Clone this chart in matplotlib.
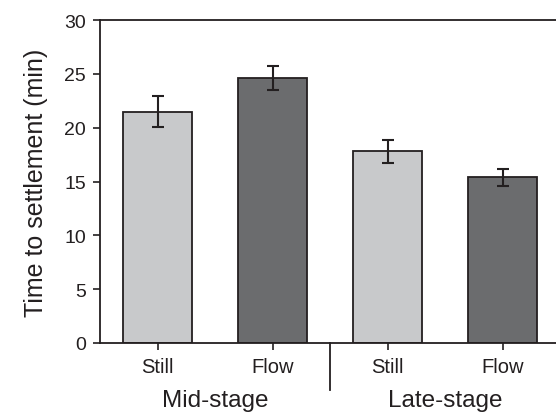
import matplotlib
matplotlib.use("Agg")
import matplotlib.pyplot as plt

plt.rcParams['font.family'] = ['Liberation Sans', 'DejaVu Sans']
edge = "#231f20"
plt.rcParams['text.color'] = edge
plt.rcParams['xtick.labelcolor'] = edge
plt.rcParams['ytick.labelcolor'] = edge
plt.rcParams['axes.labelcolor'] = edge

conditions = ["Still", "Flow", "Still", "Flow"]
stages = ["Mid-stage", "Late-stage"]
means = [21.5, 24.6, 17.8, 15.4]
errors = [1.4, 1.1, 1.1, 0.8]
colors = ["#c8c9cb", "#6b6c6e", "#c8c9cb", "#6b6c6e"]
yticks = [0, 5, 10, 15, 20, 25, 30]

fig = plt.figure(figsize=(5.56, 4.14), dpi=100)
ax = fig.add_axes([100/556, 1-344/414, 1-100/556, 323/414])
x = list(range(len(means)))
ax.bar(x, means, width=0.6, color=colors, edgecolor=edge, linewidth=1.3, zorder=2)
ax.errorbar(x, means, yerr=errors, fmt='none', ecolor=edge, elinewidth=1.5,
            capsize=4.5, capthick=1.5, zorder=3)
ax.set_xlim(-0.5, 3.465)
ax.set_ylim(0, 30)
ax.set_yticks(yticks)
ax.set_xticks(x)
ax.set_xticklabels(conditions, fontsize=14.5)
ax.tick_params(axis='y', labelsize=14, length=5, width=1.2, color=edge, pad=5)
ax.tick_params(axis='x', length=5, width=1.2, color=edge, pad=5)
for s in ['left', 'bottom', 'top']:
    ax.spines[s].set_linewidth(1.3)
    ax.spines[s].set_color(edge)
ax.spines['right'].set_visible(False)
ax.set_ylabel("Time to settlement (min)", fontsize=18, labelpad=12)

# group separators and labels
ax.plot([1.5, 1.5], [0, -47/323*30], color=edge, lw=1.3, clip_on=False,
        transform=ax.transData)
ax.text(0.5, -57/323*30, stages[0], ha='center', va='center', fontsize=17.5)
ax.text(2.5, -57/323*30, stages[1], ha='center', va='center', fontsize=17.5)

fig.savefig("out.png", dpi=100)
